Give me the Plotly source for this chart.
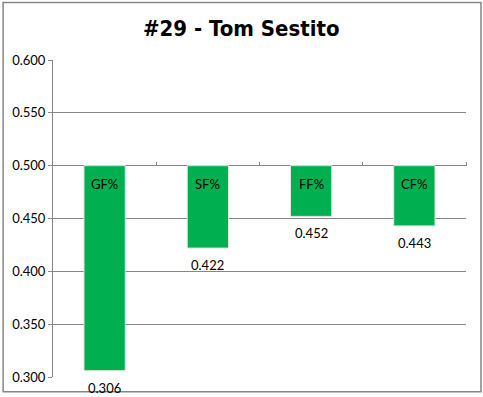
import plotly.graph_objects as go

categories = ["GF%", "SF%", "FF%", "CF%"]
values = [0.306, 0.422, 0.452, 0.443]
baseline = 0.5
y_ticks = [0.300, 0.350, 0.400, 0.450, 0.500, 0.550, 0.600]
title_text = "#29 - Tom Sestito"

green = "#00B050"
grid = "#868686"
font_fam = "Lato, 'Liberation Sans', sans-serif"

fig = go.Figure()
fig.add_trace(go.Bar(
    x=list(range(len(categories))),
    y=[v - baseline for v in values],
    base=baseline,
    width=0.4,
    marker=dict(color=green, line=dict(color="#e6e6e6", width=1)),
    hoverinfo="skip",
))

annotations = []
for i, (c, v) in enumerate(zip(categories, values)):
    annotations.append(dict(x=i, y=baseline, xref="x", yref="y", text=c, showarrow=False,
                            yanchor="top", yshift=-8, font=dict(size=13, color="#000000", family=font_fam)))
    annotations.append(dict(x=i, y=v, xref="x", yref="y", text=f"{v:.3f}", showarrow=False,
                            yanchor="top", yshift=-7, font=dict(size=13, color="#000000", family=font_fam)))
annotations.append(dict(x=(241 - 52) / 414, y=(380 - 28) / 320, xref="paper", yref="paper",
                        text="<b>" + title_text + "</b>",
                        showarrow=False, xanchor="center", yanchor="middle",
                        font=dict(size=22, color="#000000",
                                  family="'Noto Sans ExtraCondensed', 'Noto Sans Condensed', 'DejaVu Sans Condensed', 'Liberation Sans Narrow', Roboto, sans-serif")))

fig.update_layout(
    width=483, height=397,
    margin=dict(l=52, r=17, t=60, b=17),
    paper_bgcolor="white", plot_bgcolor="white",
    showlegend=False,
    annotations=annotations,
    xaxis=dict(range=[-0.5, 3.5], showticklabels=False, showgrid=False, zeroline=False,
               ticks="", showline=False, fixedrange=True),
    xaxis2=dict(range=[-0.5, 3.5], overlaying="x", side="top", anchor="free",
                position=(baseline - 0.3) / 0.3, showticklabels=False, showgrid=False,
                zeroline=False, tickvals=[0.5, 1.5, 2.5, 3.5], ticks="outside",
                ticklen=4, tickcolor=grid, showline=False),
    yaxis=dict(range=[0.3, 0.6], tickvals=y_ticks, tickformat=".3f", showgrid=True,
               gridcolor=grid, gridwidth=1, showline=True, linecolor=grid, linewidth=1,
               ticks="outside", ticklen=4, tickcolor=grid, zeroline=False,
               tickfont=dict(size=13, color="#000000", family=font_fam)),
    shapes=[dict(type="rect", xref="paper", yref="paper",
                 x0=(2 - 52) / 414, x1=(481 - 52) / 414,
                 y0=(380 - 395) / 320, y1=(380 - 2) / 320,
                 line=dict(color=grid, width=1.5), layer="below")],
)
fig.add_trace(go.Scatter(x=[], y=[], xaxis="x2", showlegend=False))

fig.write_html("out.html", config={"displayModeBar": False},
               post_script="document.body.style.margin='0';")
